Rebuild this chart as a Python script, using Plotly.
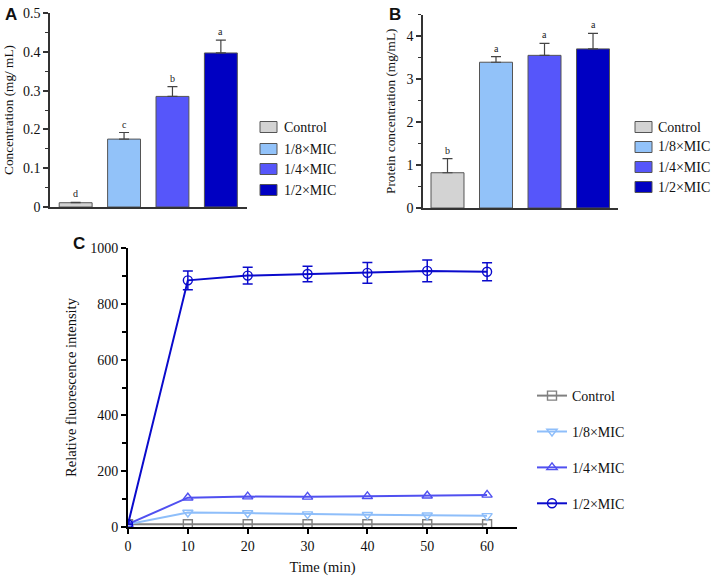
import plotly.graph_objects as go

W, H = 712, 576

groups = ["Control", "1/8×MIC", "1/4×MIC", "1/2×MIC"]
bar_colors = ["#D3D3D3", "#92C2F9", "#5656FA", "#0000C2"]
line_colors = ["#808080", "#8EBEFA", "#5050F0", "#0A0ACC"]
symbols = ["square-open", "triangle-down-open", "triangle-up-open", "circle-open"]

# Panel A
conc_a = [0.011, 0.175, 0.285, 0.397]
err_a = [0.001, 0.017, 0.025, 0.033]
letters_a = ["d", "c", "b", "a"]

# Panel B
conc_b = [0.82, 3.39, 3.55, 3.70]
err_b = [0.33, 0.13, 0.28, 0.36]
letters_b = ["b", "a", "a", "a"]

# Panel C
time_min = [0, 10, 20, 30, 40, 50, 60]
fluor = {
    "Control": [10, 10, 10, 10, 10, 10, 10],
    "1/8×MIC": [10, 52, 50, 46, 44, 42, 40],
    "1/4×MIC": [10, 105, 109, 108, 110, 112, 115],
    "1/2×MIC": [10, 884, 901, 907, 911, 918, 915],
}
fluor_err = {
    "Control": [0, 0, 0, 0, 0, 0, 0],
    "1/8×MIC": [0, 0, 0, 0, 0, 0, 0],
    "1/4×MIC": [0, 0, 0, 0, 0, 0, 0],
    "1/2×MIC": [0, 34, 30, 28, 37, 39, 32],
}

SERIF = "Liberation Serif"
SANS = "Liberation Sans"

def px_x(p):
    return p / W

def px_y(p):
    return 1 - p / H

fig = go.Figure()
xpos = list(range(len(groups)))

# Panel A bars
for i, g in enumerate(groups):
    fig.add_trace(go.Bar(
        x=[xpos[i]], y=[conc_a[i]], width=0.68,
        marker=dict(color=bar_colors[i], line=dict(color="#555555", width=1)),
        error_y=dict(type="data", array=[err_a[i]], arrayminus=[0], symmetric=False,
                     color="#444444", thickness=1.2, width=5),
        xaxis="x", yaxis="y", showlegend=False, name=g,
    ))
    fig.add_annotation(x=xpos[i], y=conc_a[i] + err_a[i], xref="x", yref="y",
                       text=letters_a[i], showarrow=False, yanchor="bottom", yshift=1,
                       font=dict(family=SERIF, size=10, color="#222"))

# Panel B bars
for i, g in enumerate(groups):
    fig.add_trace(go.Bar(
        x=[xpos[i]], y=[conc_b[i]], width=0.68,
        marker=dict(color=bar_colors[i], line=dict(color="#555555", width=1)),
        error_y=dict(type="data", array=[err_b[i]], arrayminus=[0], symmetric=False,
                     color="#444444", thickness=1.2, width=5),
        xaxis="x2", yaxis="y2", showlegend=False, name=g,
    ))
    fig.add_annotation(x=xpos[i], y=conc_b[i] + err_b[i], xref="x2", yref="y2",
                       text=letters_b[i], showarrow=False, yanchor="bottom", yshift=1,
                       font=dict(family=SERIF, size=10, color="#222"))

# Panel C lines
for i, g in enumerate(groups):
    errs = fluor_err[g]
    fig.add_trace(go.Scatter(
        x=time_min, y=fluor[g], mode="lines+markers", name=g,
        line=dict(color=line_colors[i], width=2),
        marker=dict(symbol=symbols[i], size=9, color=line_colors[i],
                    line=dict(width=1.4, color=line_colors[i])),
        error_y=dict(type="data", array=errs, visible=any(e > 0 for e in errs),
                     color=line_colors[i], thickness=1.5, width=5),
        xaxis="x3", yaxis="y3", legend="legend3", legendgroup=g,
    ))

# Bar legends (A and B) drawn as swatches + labels
def bar_legend(x0, x1, xt, rows):
    for i, g in enumerate(groups):
        yc = rows[i]
        fig.add_shape(type="rect", xref="paper", yref="paper",
                      x0=px_x(x0), x1=px_x(x1), y0=px_y(yc + 5.5), y1=px_y(yc - 5.5),
                      fillcolor=bar_colors[i], line=dict(color="#555555", width=1))
        fig.add_annotation(x=px_x(xt), y=px_y(yc), xref="paper", yref="paper",
                           text=g, showarrow=False, xanchor="left", yanchor="middle",
                           font=dict(family=SERIF, size=14, color="#111"))

bar_legend(260, 277, 282, [127, 149, 169, 190])
bar_legend(635, 652, 656, [127, 147, 167, 187])

# Panel labels
for lab, xp, yp in [("A", 3, 14), ("B", 387, 14), ("C", 71, 243)]:
    fig.add_annotation(x=px_x(xp), y=px_y(yp), xref="paper", yref="paper", text="<b>%s</b>" % lab,
                       showarrow=False, xanchor="left", yanchor="middle",
                       font=dict(family=SANS, size=17, color="#111"))

tickfont = dict(family=SERIF, size=14, color="#111")
titlefont_ab = dict(family=SERIF, size=13.3, color="#111")
titlefont_c = dict(family=SERIF, size=14.5, color="#111")

fig.update_layout(
    width=W, height=H, margin=dict(l=0, r=0, t=0, b=0, autoexpand=False),
    paper_bgcolor="white", plot_bgcolor="white", barmode="overlay",
    xaxis=dict(domain=[px_x(50), px_x(247)], range=[-0.53, 3.54], showticklabels=False,
               ticks="", showgrid=False, zeroline=False, showline=True, automargin=False,
               linecolor="#333", linewidth=1.5, anchor="y", fixedrange=True),
    yaxis=dict(domain=[px_y(207), px_y(13)], range=[0, 0.5], dtick=0.1, automargin=False,
               ticks="outside", ticklen=5, tickwidth=1.5, tickcolor="#333",
               minor=dict(ticks="outside", ticklen=3, tickwidth=1.2, tickcolor="#333", dtick=0.05),
               showgrid=False, zeroline=False, showline=True, linecolor="#333", linewidth=1.5,
               tickfont=tickfont, anchor="x",
               title=dict(text="Concentration (mg/ mL)", font=titlefont_ab, standoff=6)),
    xaxis2=dict(domain=[px_x(423), px_x(618)], range=[-0.505, 3.515], showticklabels=False,
                ticks="", showgrid=False, zeroline=False, showline=True, automargin=False,
                linecolor="#333", linewidth=1.5, anchor="y2"),
    yaxis2=dict(domain=[px_y(208), px_y(14.5)], range=[0, 4.5], dtick=1, automargin=False,
                ticks="outside", ticklen=5, tickwidth=1.5, tickcolor="#333",
                minor=dict(ticks="outside", ticklen=3, tickwidth=1.2, tickcolor="#333", dtick=0.5),
                showgrid=False, zeroline=False, showline=True, linecolor="#333", linewidth=1.5,
                tickfont=tickfont, anchor="x2",
                title=dict(text="Protein concentration (mg/mL)", font=titlefont_ab, standoff=8)),
    xaxis3=dict(domain=[px_x(128), px_x(517)], range=[0, 65], tickvals=time_min, automargin=False,
                ticks="outside", ticklen=5, tickwidth=2, tickcolor="#000",
                showgrid=False, zeroline=False, showline=True, linecolor="#000", linewidth=2,
                tickfont=tickfont, anchor="y3",
                title=dict(text="Time (min)", font=titlefont_c, standoff=11)),
    yaxis3=dict(domain=[px_y(527), px_y(248)], range=[0, 1000], dtick=200, automargin=False,
                ticks="outside", ticklen=5, tickwidth=2, tickcolor="#000",
                minor=dict(ticks="outside", ticklen=4, tickwidth=2, tickcolor="#000", dtick=100),
                showgrid=False, zeroline=False, showline=True, linecolor="#000", linewidth=2,
                tickfont=tickfont, anchor="x3",
                title=dict(text="Relative fluorescence intensity", font=titlefont_c, standoff=10)),
    legend3=dict(x=px_x(532), y=px_y(380), xanchor="left", yanchor="top",
                 font=dict(family=SERIF, size=14, color="#111"), bgcolor="rgba(0,0,0,0)",
                 tracegroupgap=14.7, traceorder="grouped", itemwidth=30),
    showlegend=True,
)

fig.write_html("out.html", config={"displayModeBar": False},
               post_script="document.body.style.margin='0';document.body.style.overflow='hidden';")
